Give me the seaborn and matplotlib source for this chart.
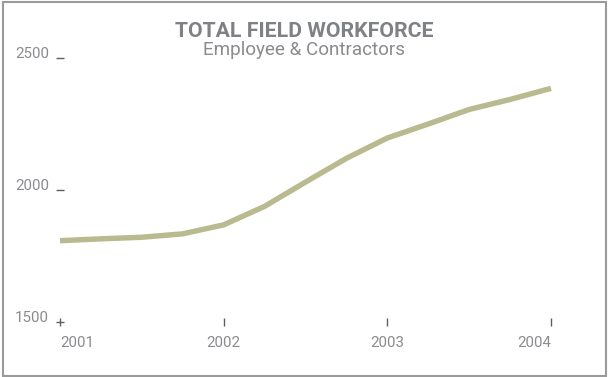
import matplotlib
matplotlib.use("Agg")
import matplotlib.pyplot as plt
import seaborn as sns
import pandas as pd
from matplotlib.patches import Rectangle

# Quarterly headcount, employees plus contractors
years = [2001.0, 2001.25, 2001.5, 2001.75, 2002.0, 2002.25, 2002.5,
         2002.75, 2003.0, 2003.25, 2003.5, 2003.75, 2004.0]
workforce = [1808, 1815, 1821, 1834, 1868, 1938, 2030,
             2120, 2197, 2250, 2305, 2343, 2385]

year_ticks = [2001, 2002, 2003, 2004]
value_ticks = [1500, 2000, 2500]

title = "TOTAL FIELD WORKFORCE"
subtitle = "Employee & Contractors"

sns.set_style("white")
plt.rcParams["font.family"] = ["Roboto", "DejaVu Sans"]

LINE = "#b9ba8f"
TEXT = "#8a8b8e"
TITLE = "#7f8184"
TICK = "#5f5f5f"

W, H = 608, 377
fig = plt.figure(figsize=(W / 100, H / 100), dpi=100)
ax = fig.add_axes([60 / W, 55 / H, 491 / W, 264 / H])

df = pd.DataFrame({"year": years, "workforce": workforce})
sns.lineplot(data=df, x="year", y="workforce", ax=ax, color=LINE,
             linewidth=3.9, solid_capstyle="butt", solid_joinstyle="round")
for ln in ax.lines:
    ln.set_clip_on(False)

ax.set_xlim(2001, 2004)
ax.set_ylim(1500, 2500)
ax.set_xticks(year_ticks)
ax.set_xticklabels([str(y) for y in year_ticks])
ax.set_yticks(value_ticks)
ax.set_yticklabels([str(v) for v in value_ticks])
ax.set_xlabel("")
ax.set_ylabel("")
for s in ax.spines.values():
    s.set_visible(False)

ax.tick_params(axis="both", bottom=True, left=True, direction="inout",
               length=6, width=1, color=TICK, labelcolor=TEXT,
               labelsize=10.8)
ax.tick_params(axis="x", pad=7)
ax.tick_params(axis="y", pad=5)
for lbl in ax.get_yticklabels():
    lbl.set_verticalalignment("baseline")
xl = ax.get_xticklabels()
xl[0].set_horizontalalignment("left")
xl[-1].set_horizontalalignment("right")

fig.text(0.5, 1 - 37 / H, title, ha="center", va="baseline",
         fontsize=15.3, fontweight="bold", color=TITLE)
fig.text(0.5, 1 - 55 / H, subtitle, ha="center", va="baseline",
         fontsize=13.6, color=TEXT)

fig.patches.append(Rectangle((2.5 / W, 1.0 / H), 603 / W, 374.5 / H,
                             transform=fig.transFigure, fill=False,
                             edgecolor="#9a9a9a", linewidth=1.5))

fig.savefig("out.png", dpi=100)
